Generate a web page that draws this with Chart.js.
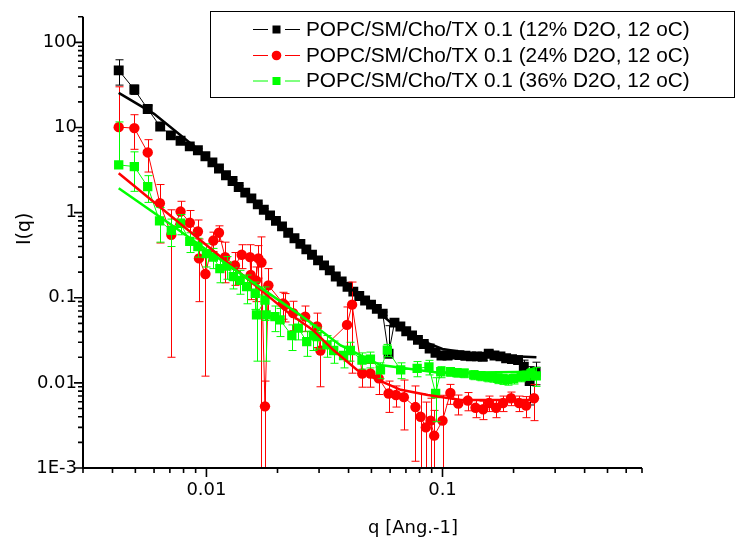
<!DOCTYPE html>
<html>
<head>
<meta charset="utf-8">
<script src="https://cdn.jsdelivr.net/npm/chart.js@4.4.1/dist/chart.umd.min.js"></script>
<style>
  html, body { margin: 0; padding: 0; background: #fff; }
  #wrap { width: 739px; height: 537px; }
</style>
</head>
<body>
<div id="wrap"><canvas id="chart" width="739" height="537"></canvas></div>
<script>
const seriesNames = [
  "POPC/SM/Cho/TX 0.1 (12% D2O, 12 oC)",
  "POPC/SM/Cho/TX 0.1 (24% D2O, 12 oC)",
  "POPC/SM/Cho/TX 0.1 (36% D2O, 12 oC)",
];
const seriesColors = ["#000000", "#ff0000", "#00ff00"];

// 12% D2O
const qBlack = [0.00425, 0.00495, 0.00564, 0.00637, 0.00707, 0.00777, 0.0085, 0.0092, 0.0099, 0.0106,
  0.0113, 0.0121, 0.0129, 0.0137, 0.0146, 0.0155, 0.0165, 0.0175, 0.0186, 0.0197,
  0.0209, 0.0222, 0.0236, 0.025, 0.0265, 0.028, 0.0297, 0.0315, 0.0333, 0.0353,
  0.0374, 0.0396, 0.0419, 0.0444, 0.047, 0.0498, 0.0527, 0.0558, 0.0591, 0.0626,
  0.0663, 0.0702, 0.0743, 0.0787, 0.0833, 0.0882, 0.0934, 0.099, 0.105, 0.111,
  0.118, 0.125, 0.132, 0.14, 0.148, 0.157, 0.166, 0.176, 0.186, 0.197,
  0.209, 0.221, 0.234, 0.248];
const iBlack = [47, 28, 16.5, 10.3, 8.1, 7.0, 6.0, 5.4, 4.6, 3.9,
  3.3, 2.75, 2.35, 2.0, 1.72, 1.47, 1.25, 1.08, 0.93, 0.80,
  0.69, 0.58, 0.50, 0.43, 0.37, 0.32, 0.275, 0.24, 0.21, 0.178,
  0.155, 0.135, 0.118, 0.105, 0.093, 0.083, 0.074, 0.065, 0.022, 0.051,
  0.046, 0.0405, 0.036, 0.032, 0.0286, 0.0254, 0.0226, 0.021, 0.021, 0.0215,
  0.0212, 0.0208, 0.0205, 0.0205, 0.0203, 0.022, 0.021, 0.0205, 0.0195, 0.019,
  0.0185, 0.0155, 0.0105, 0.0135];
const errBlack = [15.5, 3.5, 1.5, 0.8, 0.5, 0.4, 0.3, 0.25, 0.2, 0.15,
  0.12, 0.1, 0.08, 0.07, 0.06, 0.05, 0.04, 0.035, 0.03, 0.025,
  0.02, 0.018, 0.015, 0.013, 0.011, 0.01, 0.009, 0.008, 0.007, 0.006,
  0.006, 0.005, 0.005, 0.004, 0.004, 0.004, 0.003, 0.003, 0.025, 0.003,
  0.003, 0.002, 0.002, 0.002, 0.002, 0.002, 0.002, 0.002, 0.002, 0.002,
  0.002, 0.002, 0.002, 0.002, 0.002, 0.002, 0.002, 0.002, 0.002, 0.002,
  0.002, 0.003, 0.005, 0.004];
const qBlackFit = [0.00425, 0.006, 0.01, 0.02, 0.04, 0.06, 0.08, 0.1, 0.15, 0.2, 0.25];
const iBlackFit = [25.5, 14.5, 4.6, 0.78, 0.135, 0.052, 0.032, 0.025, 0.021, 0.0205, 0.020];

// 24% D2O
const qRed = [0.00425, 0.00495, 0.00564, 0.00635, 0.0071, 0.00777, 0.0085, 0.0092, 0.0093, 0.0099,
  0.0107, 0.0113, 0.012, 0.0132, 0.0141, 0.0153, 0.0154, 0.0162, 0.0166, 0.0171,
  0.0177, 0.0183, 0.0211, 0.0215, 0.0233, 0.0262, 0.0294, 0.0304, 0.0394, 0.0414,
  0.0457, 0.0495, 0.0537, 0.0591, 0.0635, 0.0686, 0.0768, 0.0808, 0.085, 0.089,
  0.0922, 0.1, 0.108, 0.1166, 0.128, 0.138, 0.1486, 0.1575, 0.1687, 0.1806,
  0.1951, 0.211, 0.226, 0.244];
const iRed = [10.1, 9.85, 5.1, 1.29, 0.55, 1.03, 0.76, 0.60, 0.29, 0.19,
  0.47, 0.58, 0.30, 0.24, 0.32, 0.30, 0.185, 0.16, 0.29, 0.26,
  0.0053, 0.14, 0.086, 0.082, 0.066, 0.06, 0.046, 0.024, 0.048, 0.083,
  0.0129, 0.0129, 0.0113, 0.0075, 0.0072, 0.0068, 0.0052, 0.0040, 0.0030, 0.0036,
  0.0024, 0.0036, 0.0076, 0.0057, 0.0062, 0.0051, 0.0049, 0.0058, 0.0051, 0.0058,
  0.0066, 0.0058, 0.0054, 0.0066];
const errRed = [20, 4.3, 2.1, 0.85, 0.53, 0.33, 0.3, 0.22, 0.2, 0.178,
  0.12, 0.12, 0.15, 0.1, 0.1, 0.12, 0.09, 0.07, 0.12, 0.259,
  0.0052, 0.08, 0.03, 0.03, 0.025, 0.02, 0.02, 0.015, 0.03, 0.07,
  0.004, 0.004, 0.004, 0.003, 0.002, 0.004, 0.004, 0.0035, 0.00295, 0.003,
  0.00235, 0.00355, 0.002, 0.0015, 0.0015, 0.0012, 0.0012, 0.0012, 0.0012, 0.0012,
  0.0012, 0.0012, 0.0015, 0.003];
const qRedFit = [0.00425, 0.0106, 0.0226, 0.0283, 0.0345, 0.0436, 0.053, 0.0665, 0.0866, 0.1197, 0.2496];
const iRedFit = [2.9, 0.364, 0.0643, 0.0417, 0.0243, 0.0141, 0.0109, 0.0083, 0.0072, 0.0063, 0.0063];

// 36% D2O
const qGreen = [0.00425, 0.00495, 0.00564, 0.00633, 0.0071, 0.00777, 0.0085, 0.0092, 0.01, 0.0107,
  0.0114, 0.0122, 0.013, 0.0139, 0.0148, 0.0161, 0.0163, 0.0177, 0.0179, 0.0195,
  0.0205, 0.023, 0.0245, 0.0266, 0.0284, 0.0294, 0.0324, 0.0346, 0.0381, 0.0407,
  0.0456, 0.0495, 0.0546, 0.0584, 0.0665, 0.0781, 0.0876, 0.0935, 0.0983, 0.108,
  0.115, 0.1235, 0.1356, 0.145, 0.1556, 0.163, 0.1716, 0.18, 0.189, 0.2,
  0.2155, 0.226, 0.237, 0.2496];
const iGreen = [3.64, 3.48, 2.02, 0.80, 0.62, 0.75, 0.46, 0.40, 0.33, 0.30,
  0.22, 0.235, 0.177, 0.16, 0.135, 0.113, 0.063, 0.094, 0.063, 0.06,
  0.055, 0.036, 0.044, 0.0305, 0.036, 0.035, 0.028, 0.024, 0.021, 0.024,
  0.0185, 0.019, 0.0142, 0.0243, 0.0142, 0.0148, 0.0154, 0.0075, 0.0135, 0.0135,
  0.0132, 0.013, 0.0124, 0.0121, 0.0118, 0.0117, 0.0113, 0.0111, 0.0109, 0.0112,
  0.0118, 0.0122, 0.0128, 0.0121];
const errGreen = [8, 1.7, 0.7, 0.35, 0.22, 0.2, 0.12, 0.1, 0.1, 0.08,
  0.07, 0.07, 0.05, 0.05, 0.05, 0.04, 0.045, 0.04, 0.045, 0.02,
  0.02, 0.012, 0.012, 0.01, 0.012, 0.01, 0.008, 0.007, 0.006, 0.006,
  0.004, 0.004, 0.003, 0.004, 0.003, 0.003, 0.003, 0.004, 0.002, 0.0015,
  0.0015, 0.0015, 0.0015, 0.0015, 0.0015, 0.0015, 0.0015, 0.0015, 0.0015, 0.0015,
  0.0015, 0.0015, 0.002, 0.003];
const qGreenFit = [0.00425, 0.00719, 0.01, 0.0153, 0.0249, 0.0369, 0.0546, 0.0983, 0.2496];
const iGreenFit = [1.94, 0.70, 0.367, 0.16, 0.063, 0.0277, 0.0162, 0.0131, 0.0135];

// axes
const xTicks = [0.01, 0.1];
const xTickLabels = ["0.01", "0.1"];
const xMinorTicks = [0.003, 0.004, 0.005, 0.006, 0.007, 0.008, 0.009,
  0.02, 0.03, 0.04, 0.05, 0.06, 0.07, 0.08, 0.09, 0.2, 0.3, 0.4, 0.5, 0.6, 0.7];
const yTicks = [0.001, 0.01, 0.1, 1, 10, 100];
const yTickLabels = ["1E-3", "0.01", "0.1", "1", "10", "100"];
const yMinorTicks = [0.002, 0.003, 0.004, 0.005, 0.006, 0.007, 0.008, 0.009,
  0.02, 0.03, 0.04, 0.05, 0.06, 0.07, 0.08, 0.09,
  0.2, 0.3, 0.4, 0.5, 0.6, 0.7, 0.8, 0.9,
  2, 3, 4, 5, 6, 7, 8, 9, 20, 30, 40, 50, 60, 70, 80, 90, 200];
const xTitle = "q [Ang.-1]";
const yTitle = "I(q)";

function points(qs, vals) {
  return qs.map((q, k) => ({ x: q, y: vals[k] }));
}

function dataSeries(k, qs, vals, errs, style, radius) {
  return {
    label: seriesNames[k],
    data: points(qs, vals),
    errorBars: errs,
    showLine: true,
    borderColor: seriesColors[k],
    backgroundColor: seriesColors[k],
    borderWidth: 1,
    pointStyle: style,
    pointRadius: radius,
    pointBorderWidth: 0,
    pointBackgroundColor: seriesColors[k],
    order: 6 - k,
  };
}

function fitSeries(k, qs, vals) {
  return {
    label: seriesNames[k] + " fit",
    data: points(qs, vals),
    showLine: true,
    borderColor: seriesColors[k],
    borderWidth: 2.5,
    pointRadius: 0,
    order: 3 - k,
  };
}

const errorBarPlugin = {
  id: "errorBars",
  beforeDatasetDraw(chart, args) {
    const ds = chart.data.datasets[args.index];
    if (!ds.errorBars) return;
    const { ctx, chartArea: a, scales: { x, y } } = chart;
    ctx.save();
    ctx.beginPath();
    ctx.rect(a.left, a.top, a.right - a.left, a.bottom - a.top);
    ctx.clip();
    ctx.strokeStyle = ds.borderColor;
    ctx.lineWidth = 1;
    ctx.beginPath();
    ds.data.forEach((p, k) => {
      const e = ds.errorBars[k];
      const px = Math.round(x.getPixelForValue(p.x)) + 0.5;
      const mid = y.getPixelForValue(p.y);
      const top = y.getPixelForValue(p.y + e);
      const bottom = p.y - e > 0 ? y.getPixelForValue(p.y - e) : null;
      ctx.moveTo(px, top);
      ctx.lineTo(px, bottom === null ? mid : bottom);
      ctx.moveTo(px - 4, top);
      ctx.lineTo(px + 4, top);
      if (bottom !== null) {
        ctx.moveTo(px - 4, bottom);
        ctx.lineTo(px + 4, bottom);
      }
    });
    ctx.stroke();
    ctx.restore();
  },
};

const axesPlugin = {
  id: "originAxes",
  afterDatasetsDraw(chart) {
    const { ctx, chartArea: a, scales: { x, y } } = chart;
    ctx.save();
    ctx.strokeStyle = "#000";
    ctx.lineWidth = 2;
    ctx.beginPath();
    ctx.moveTo(a.left, a.top);
    ctx.lineTo(a.left, a.bottom);
    ctx.lineTo(a.right, a.bottom);
    ctx.stroke();
    ctx.lineWidth = 1.6;
    ctx.beginPath();
    yTicks.forEach((v) => { const p = y.getPixelForValue(v); ctx.moveTo(a.left - 9, p); ctx.lineTo(a.left, p); });
    yMinorTicks.forEach((v) => { const p = y.getPixelForValue(v); ctx.moveTo(a.left - 5, p); ctx.lineTo(a.left, p); });
    xTicks.forEach((v) => { const p = x.getPixelForValue(v); ctx.moveTo(p, a.bottom); ctx.lineTo(p, a.bottom + 9); });
    xMinorTicks.forEach((v) => { const p = x.getPixelForValue(v); ctx.moveTo(p, a.bottom); ctx.lineTo(p, a.bottom + 5); });
    ctx.stroke();
    ctx.restore();
  },
  afterDraw(chart) {
    const { ctx, chartArea: a } = chart;
    ctx.save();
    // axis titles
    ctx.fillStyle = "#000";
    ctx.font = "18px 'DejaVu Sans'";
    ctx.textAlign = "center";
    ctx.textBaseline = "alphabetic";
    ctx.fillText(xTitle, a.left + 330, 533);
    ctx.save();
    ctx.font = "19px 'DejaVu Sans'";
    ctx.translate(30, a.top + 212);
    ctx.rotate(-Math.PI / 2);
    ctx.fillText(yTitle, 0, 0);
    ctx.restore();

    // legend box
    const box = { left: 210, top: 11, width: 524, height: 86 };
    ctx.fillStyle = "#fff";
    ctx.fillRect(box.left, box.top, box.width, box.height);
    ctx.strokeStyle = "#000";
    ctx.lineWidth = 1;
    ctx.strokeRect(box.left + 0.5, box.top + 0.5, box.width, box.height);
    const rowY = [29, 55, 80.5];
    ctx.font = "20.8px Arial, 'Liberation Sans', sans-serif";
    ctx.textAlign = "left";
    seriesNames.forEach((name, k) => {
      const yy = rowY[k];
      ctx.strokeStyle = seriesColors[k];
      ctx.fillStyle = seriesColors[k];
      ctx.lineWidth = 1;
      ctx.beginPath();
      ctx.moveTo(253, yy + 0.5);
      ctx.lineTo(268, yy + 0.5);
      ctx.moveTo(285, yy + 0.5);
      ctx.lineTo(300, yy + 0.5);
      ctx.stroke();
      if (k === 1) {
        ctx.beginPath();
        ctx.arc(276.5, yy + 0.5, 4.8, 0, Math.PI * 2);
        ctx.fill();
      } else {
        ctx.fillRect(272.5, yy - 3.5, 8, 8);
      }
      ctx.fillStyle = "#000";
      ctx.fillText(name, 306, yy + 6.5);
    });
    ctx.restore();
  },
};

const tickFont = { family: "'DejaVu Sans'", size: 18 };

new Chart(document.getElementById("chart"), {
  type: "scatter",
  data: {
    datasets: [
      dataSeries(0, qBlack, iBlack, errBlack, "rect", 7),
      dataSeries(1, qRed, iRed, errRed, "circle", 5.2),
      dataSeries(2, qGreen, iGreen, errGreen, "rect", 6.6),
      fitSeries(0, qBlackFit, iBlackFit),
      fitSeries(1, qRedFit, iRedFit),
      fitSeries(2, qGreenFit, iGreenFit),
    ],
  },
  options: {
    responsive: false,
    animation: false,
    events: [],
    layout: { padding: { left: 0, top: 16, right: 97, bottom: 0 } },
    plugins: { legend: { display: false }, tooltip: { enabled: false } },
    scales: {
      x: {
        type: "logarithmic",
        min: 0.003,
        max: 0.7,
        afterBuildTicks: (s) => { s.ticks = xTicks.map((v) => ({ value: v })); },
        afterFit: (s) => { s.height = 69; },
        grid: { display: false, drawTicks: false },
        border: { display: false },
        ticks: {
          autoSkip: false,
          maxRotation: 0,
          padding: 12,
          color: "#000",
          font: tickFont,
          callback: (v, k) => xTickLabels[k],
        },
      },
      y: {
        type: "logarithmic",
        min: 0.001,
        max: 200,
        afterBuildTicks: (s) => { s.ticks = yTicks.map((v) => ({ value: v })); },
        afterFit: (s) => { s.width = 83; },
        grid: { display: false, drawTicks: false },
        border: { display: false },
        ticks: {
          autoSkip: false,
          padding: 6,
          color: "#000",
          font: tickFont,
          callback: (v, k) => yTickLabels[k],
        },
      },
    },
  },
  plugins: [errorBarPlugin, axesPlugin],
});
</script>
</body>
</html>
